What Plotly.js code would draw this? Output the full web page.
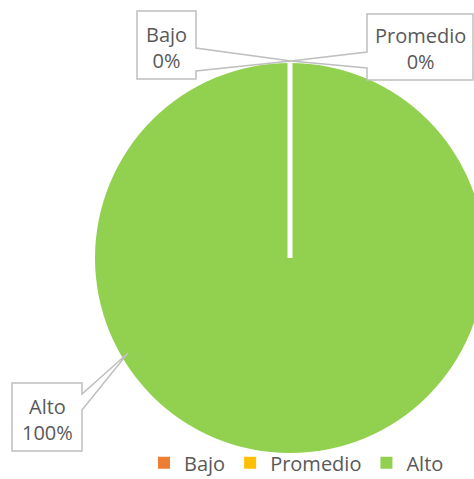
<!DOCTYPE html>
<html>
<head>
<meta charset="utf-8">
<script src="https://cdn.plot.ly/plotly-3.0.1.min.js"></script>
<style>
html, body { margin:0; padding:0; overflow:hidden; background:#fff; width:474px; height:479px; }
#chart { width:490px; height:479px; }
</style>
</head>
<body>
<div id="chart"></div>
<script>
const categories = ["Bajo", "Promedio", "Alto"];
const values = [0, 0, 100];
const percentLabels = ["0%", "0%", "100%"];
const colors = ["#ED7D31", "#FFC000", "#92D050"];

const W = 490, H = 479;
const px = x => x / W;
const py = y => 1 - y / H;
const path = pts => pts.map((p, i) => (i ? "L" : "M") + px(p[0]).toFixed(4) + "," + py(p[1]).toFixed(4)).join(" ") + " Z";

const textColor = "#595959";
const font = {family: "Open Sans, sans-serif", size: 20, color: textColor};

const cx = 290, cy = 258, r = 195;

const trace = {
  type: "pie",
  labels: categories,
  values: values,
  marker: {colors: colors, line: {color: "#ffffff", width: 0}},
  textinfo: "none",
  sort: false,
  direction: "clockwise",
  rotation: 0,
  hoverinfo: "label+percent",
  domain: {x: [px(cx - r), px(cx + r)], y: [py(cy + r), py(cy - r)]}
};

const calloutLine = {color: "#BFBFBF", width: 1.5};
const shapes = [
  {type: "line", xref: "paper", yref: "paper", x0: px(cx), y0: py(cy), x1: px(cx), y1: py(cy - r - 1), line: {color: "#ffffff", width: 5}},
  {type: "path", xref: "paper", yref: "paper", fillcolor: "#ffffff", line: calloutLine,
   path: path([[137, 11], [196, 11], [196, 48], [291, 61], [196, 71], [196, 79], [137, 79]])},
  {type: "path", xref: "paper", yref: "paper", fillcolor: "#ffffff", line: calloutLine,
   path: path([[367, 14], [473, 14], [473, 80], [367, 80], [367, 68], [291, 61], [367, 52]])},
  {type: "path", xref: "paper", yref: "paper", fillcolor: "#ffffff", line: calloutLine,
   path: path([[12, 383], [82, 383], [82, 394], [128, 353], [82, 410], [82, 451], [12, 451]])}
];

const boxCenters = [[166.5, 47], [420, 49], [47, 419]];
const annotations = categories.map((c, i) => ({
  xref: "paper", yref: "paper",
  x: px(boxCenters[i][0]), y: py(boxCenters[i][1]),
  xanchor: "center", yanchor: "middle",
  text: c + "<br>" + percentLabels[i],
  showarrow: false,
  font: font
}));

const layout = {
  width: W, height: H,
  margin: {l: 0, r: 0, t: 0, b: 0, autoexpand: false},
  paper_bgcolor: "#ffffff",
  font: font,
  showlegend: true,
  legend: {orientation: "h", x: px(144), xanchor: "left", y: -0.007, yanchor: "bottom", font: font, bgcolor: "rgba(0,0,0,0)", itemwidth: 30, borderwidth: 0},
  shapes: shapes,
  annotations: annotations
};

Plotly.newPlot("chart", [trace], layout, {displayModeBar: false, staticPlot: true});
</script>
</body>
</html>
